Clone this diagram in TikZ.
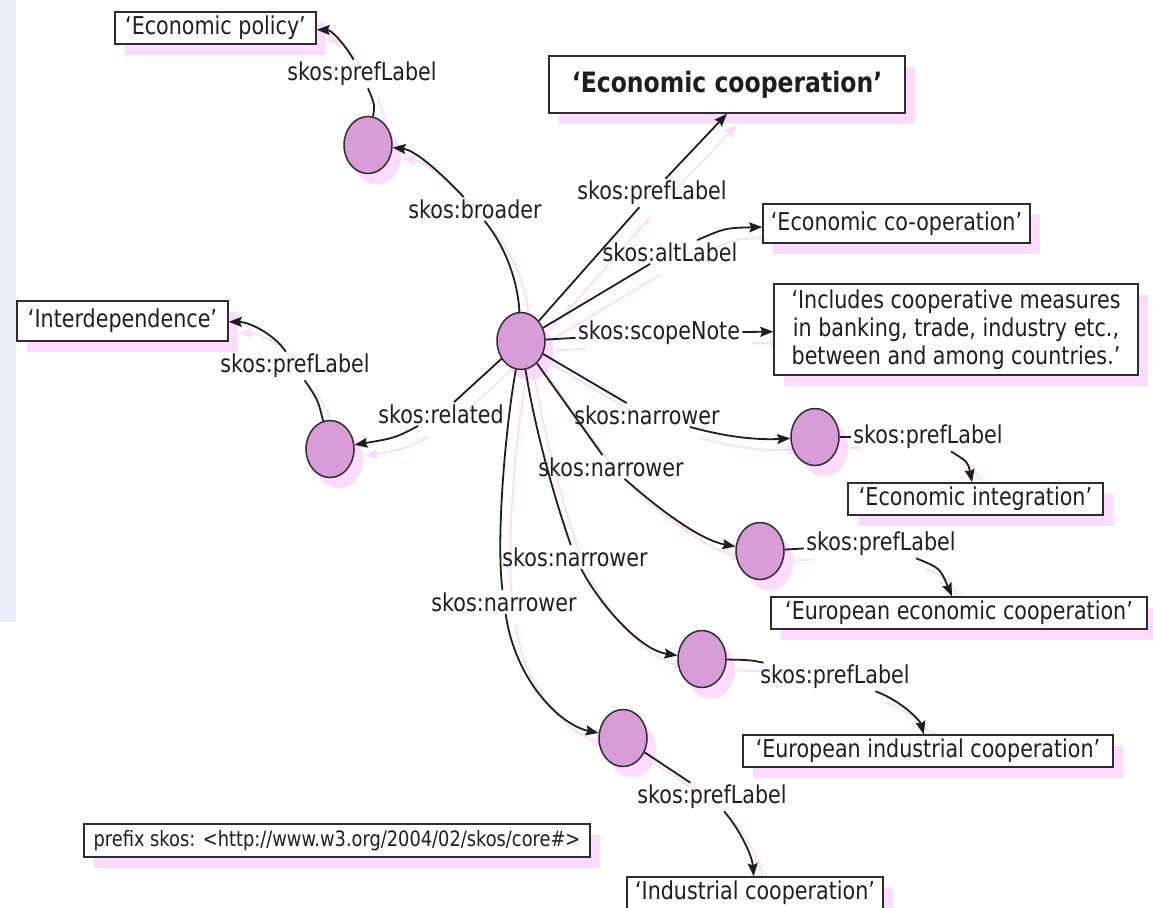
\documentclass[tikz,border=0pt]{standalone}
\usepackage{fontspec}
\setmainfont[FakeStretch=0.84]{DejaVu Sans}
\usetikzlibrary{arrows.meta,shadows,shapes.geometric}
\pgfdeclarelayer{bg}
\pgfsetlayers{bg,main}
\definecolor{panel}{RGB}{238,238,250}
\definecolor{shpink}{RGB}{255,218,255}
\definecolor{orchidfill}{RGB}{216,156,216}
\definecolor{ink}{RGB}{30,30,30}
\definecolor{rim}{RGB}{45,45,45}
\newcommand\lblfont{\fontsize{12.3pt}{14pt}\selectfont}
\newcommand\bigbfont{\fontsize{14pt}{16pt}\selectfont\bfseries}
\newcommand\pfxfont{\fontsize{10.6pt}{12pt}\selectfont}
\newcommand\drawedges[2]{%
 \draw[#1] (C) .. controls (518,285) and (508,250) .. (lB);
 \draw[#2] (lB) .. controls (440,172) and (415,150) .. (B);
 \draw[#1] (B) .. controls (375,105) .. (lBP);
 \draw[#2] (lBP) .. controls (345,45) and (332,30) .. (bEP);
 \draw[#1] (C) -- (lP);
 \draw[#2] (lP) -- (bEC.south);
 \draw[#1] (C) -- (lA);
 \draw[#2] (lA) .. controls (725,228) .. (bAlt);
 \draw[#1] (C) -- (lS);
 \draw[#2] (lS) -- (bScope);
 \draw[#1] (C) -- (lR);
 \draw[#2] (lR) .. controls (395,438) .. (R);
 \draw[#1] (R) .. controls (318,400) .. (lRP);
 \draw[#2] (lRP) .. controls (275,335) and (250,322) .. (bInter);
 \draw[#1] (C) -- (lN1);
 \draw[#2] (lN1) .. controls (730,438) and (760,440) .. (N1);
 \draw[#1] (C) -- (lN2);
 \draw[#2] (lN2) .. controls (660,510) and (700,540) .. (N2);
 \draw[#1] (C) .. controls (535,430) and (555,500) .. (lN3);
 \draw[#2] (lN3) .. controls (600,605) and (640,650) .. (N3);
 \draw[#1] (C) .. controls (505,430) and (496,540) .. (lN4);
 \draw[#2] (lN4) .. controls (515,680) and (560,725) .. (N4);
 \draw[#1] (N1) -- (lN1P);
 \draw[#2] (lN1P) .. controls (968,462) .. (bEI);
 \draw[#1] (N2) -- (lN2P);
 \draw[#2] (lN2P) .. controls (940,568) .. (bEEC);
 \draw[#1] (N3) .. controls (750,660) .. (lN3P);
 \draw[#2] (lN3P) .. controls (900,700) and (920,720) .. (bEIC);
 \draw[#1] (N4) -- (lN4P);
 \draw[#2] (lN4P) .. controls (740,830) and (752,855) .. (bIC);
}
\begin{document}
\begin{tikzpicture}[x=0.5pt,y=-0.5pt,
  concept/.style={ellipse, draw=rim, line width=0.75pt, fill=orchidfill,
    minimum width=24pt, minimum height=28.5pt, inner sep=0pt,
    general shadow={fill=shpink, shadow xshift=4.5pt, shadow yshift=-5.5pt}},
  lit/.style={rectangle, draw=rim, line width=0.75pt, fill=white, inner sep=0pt,
    text=ink, font=\lblfont,
    general shadow={fill=shpink, shadow xshift=5pt, shadow yshift=-5.5pt}},
  prop/.style={inner sep=1pt, text=ink, font=\lblfont},
  link/.style={draw=ink, line width=0.9pt},
  arr/.style={link, -{Stealth[length=6.5pt,width=5pt,inset=1pt]}},
  shlink/.style={draw=shpink, line width=0.9pt},
  sharr/.style={shlink, -{Stealth[length=6.5pt,width=5pt,inset=1pt]}}
]
\useasboundingbox (0,0) rectangle (1153,907);
\begin{pgfonlayer}{bg}
  \fill[panel] (0,0) rectangle (16,622);
\end{pgfonlayer}

% concept nodes
\node[concept] (C) at (521,341) {};
\node[concept] (B) at (368,145) {};
\node[concept] (R) at (330,449) {};
\node[concept] (N1) at (815,437) {};
\node[concept] (N2) at (760,551) {};
\node[concept] (N3) at (702,659) {};
\node[concept] (N4) at (623,738) {};

% literal boxes
\node[lit, minimum width=100.5pt, minimum height=16pt] (bEP) at (215.5,28) {‘Economic policy’};
\node[lit, font=\bigbfont, minimum width=178pt, minimum height=28.5pt] (bEC) at (727,84.5) {‘Economic cooperation’};
\node[lit, minimum width=133.5pt, minimum height=19.5pt] (bAlt) at (896.5,223.5) {‘Economic co-operation’};
\node[lit, align=center, minimum width=182pt, minimum height=45.5pt] (bScope) at (956,329.5)
  {‘Includes cooperative measures\\in banking, trade, industry etc.,\\between and among countries.’};
\node[lit, minimum width=105.5pt, minimum height=20pt] (bInter) at (122.5,321) {‘Interdependence’};
\node[lit, minimum width=127.5pt, minimum height=16pt] (bEI) at (975.5,499) {‘Economic integration’};
\node[lit, minimum width=188pt, minimum height=16pt] (bEEC) at (959,613) {‘European economic cooperation’};
\node[lit, minimum width=185pt, minimum height=16pt] (bEIC) at (928,751) {‘European industrial cooperation’};
\node[lit, minimum width=128pt, minimum height=16pt] (bIC) at (755,893) {‘Industrial cooperation’};
\node[lit, font=\pfxfont, line width=1.2pt, minimum width=253pt, minimum height=16.5pt] (bPrefix) at (337,840.5)
  {prefix skos: <http://www.w3.org/2004/02/skos/core\#>};

% property labels
\node[prop] (lB) at (475,209) {skos:broader};
\node[prop] (lBP) at (362,74) {skos:prefLabel};
\node[prop] (lP) at (652,193) {skos:prefLabel};
\node[prop] (lA) at (670,252) {skos:altLabel};
\node[prop] (lS) at (659,333) {skos:scopeNote};
\node[prop] (lR) at (441,414) {skos:related};
\node[prop] (lRP) at (295,366) {skos:prefLabel};
\node[prop] (lN1) at (647,415) {skos:narrower};
\node[prop] (lN2) at (611,467) {skos:narrower};
\node[prop] (lN3) at (575,557) {skos:narrower};
\node[prop] (lN4) at (504,602) {skos:narrower};
\node[prop] (lN1P) at (928,437) {skos:prefLabel};
\node[prop] (lN2P) at (881,544) {skos:prefLabel};
\node[prop] (lN3P) at (835,677) {skos:prefLabel};
\node[prop] (lN4P) at (712,797) {skos:prefLabel};

% edge shadows
\begin{pgfonlayer}{bg}
\begin{scope}[transform canvas={shift={(5pt,-5.5pt)}}]
  \drawedges{shlink}{sharr}
\end{scope}
\end{pgfonlayer}
% edges
\drawedges{link}{arr}
\end{tikzpicture}
\end{document}
